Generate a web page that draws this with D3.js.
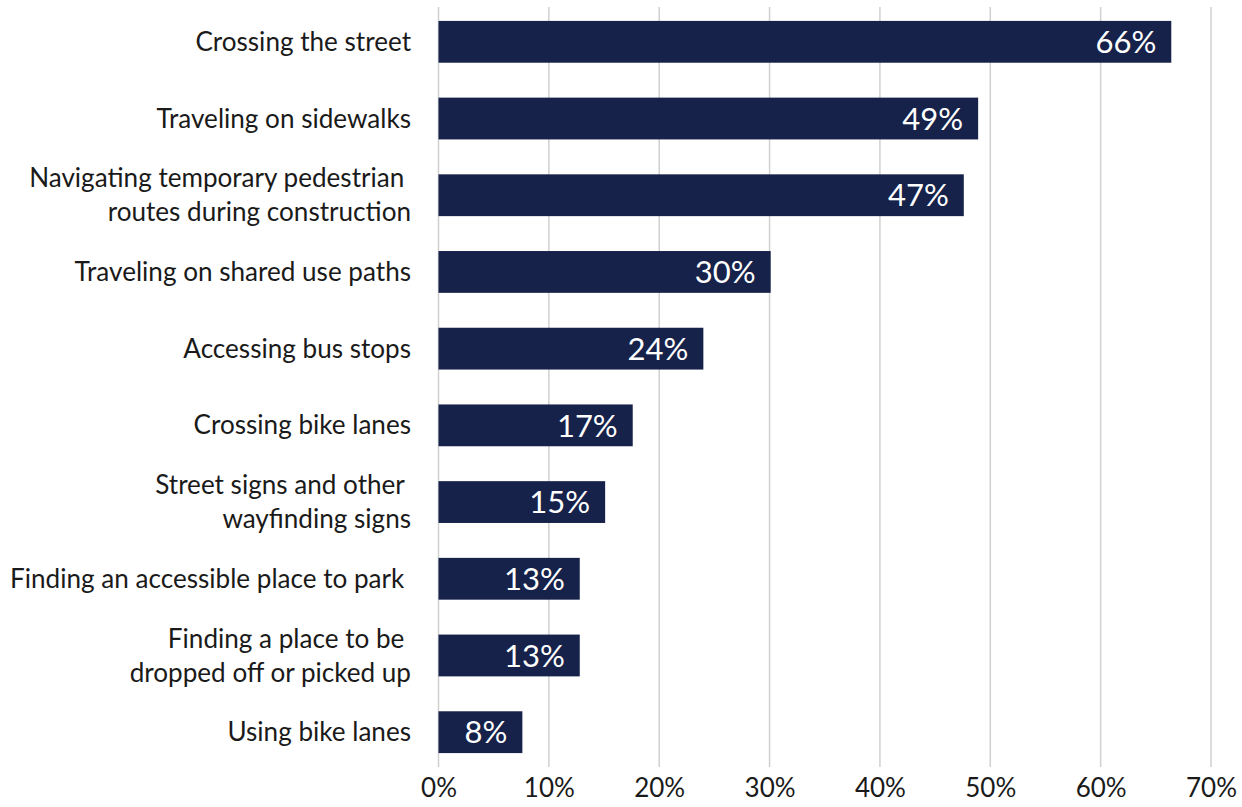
<!DOCTYPE html>
<html>
<head>
<meta charset="utf-8">
<script src="https://cdn.jsdelivr.net/npm/d3@7"></script>
<style>
  body { margin: 0; background: #fff; }
  svg { display: block; font-family: Lato, sans-serif; }
  text { white-space: pre; }
</style>
</head>
<body>
<svg id="board" width="1242" height="807"></svg>
<script>
// chart data (some labels keep a trailing space like the source)
let categories = [
    ['Crossing the street'],
    ['Traveling on sidewalks'],
    ['Navigating temporary pedestrian ', 'routes during construction'],
    ['Traveling on shared use paths'],
    ['Accessing bus stops'],
    ['Crossing bike lanes'],
    ['Street signs and other ', 'wayfinding signs'],
    ['Finding an accessible place to park '],
    ['Finding a place to be ', 'dropped off or picked up'],
    ['Using bike lanes']
]
let values = [66.4, 48.9, 47.6, 30.1, 24.0, 17.6, 15.1, 12.8, 12.8, 7.6]
let valueLabels = ['66%', '49%', '47%', '30%', '24%', '17%', '15%', '13%', '13%', '8%']
let ticks = [0, 10, 20, 30, 40, 50, 60, 70]

let board = d3.select('#board')

let x = d3.scaleLinear().domain([0, 70]).range([438.5, 1211])
let y = d3.scaleBand()
    .domain(d3.range(categories.length))
    .range([3.5, 770.5])
    .paddingInner(0.455)
    .paddingOuter(0.227)

// vertical grid lines
board.append('g')
    .selectAll('line')
    .data(ticks)
    .enter()
    .append('line')
    .attr('x1', (d) => x(d))
    .attr('x2', (d) => x(d))
    .attr('y1', 7)
    .attr('y2', 767)
    .attr('stroke', '#d0d0d0')
    .attr('stroke-width', 1.5)

// x axis tick labels
let xAxis = d3.axisBottom(x)
    .tickValues(ticks)
    .tickFormat((d) => d + '%')
    .tickSize(0)
    .tickPadding(0)

board.append('g')
    .attr('transform', 'translate(0,779)')
    .call(xAxis)
    .call((g) => g.select('.domain').remove())
    .selectAll('text')
    .attr('dy', '0.71em')
    .attr('font-family', 'Lato, sans-serif')
    .attr('font-size', 26)
    .attr('fill', '#1a1a1a')

// bars
board.append('g')
    .selectAll('rect')
    .data(values)
    .enter()
    .append('rect')
    .attr('x', x(0))
    .attr('y', (d, i) => y(i))
    .attr('width', (d) => x(d) - x(0))
    .attr('height', y.bandwidth())
    .attr('fill', '#16224a')

// value labels inside bar ends
board.append('g')
    .selectAll('text')
    .data(values)
    .enter()
    .append('text')
    .attr('x', (d) => x(d) - 15)
    .attr('y', (d, i) => y(i) + y.bandwidth() / 2)
    .attr('dy', '0.36em')
    .attr('text-anchor', 'end')
    .attr('font-size', 31)
    .attr('fill', '#ffffff')
    .text((d, i) => valueLabels[i])

// category labels
let catLabels = board.append('g')
    .selectAll('text')
    .data(categories)
    .enter()
    .append('text')
    .attr('text-anchor', 'end')
    .attr('font-size', 26.1)
    .attr('fill', '#1a1a1a')
    .attr('transform', (d, i) => 'translate(411,' + (y(i) + y.bandwidth() / 2) + ')')

catLabels.selectAll('tspan')
    .data((d) => d.map((line, k) => ({ line: line, k: k, n: d.length })))
    .enter()
    .append('tspan')
    .attr('x', 0)
    .attr('y', (d) => (d.k - (d.n - 1) / 2) * 34)
    .attr('dy', '0.35em')
    .text((d) => d.line)
</script>
</body>
</html>
